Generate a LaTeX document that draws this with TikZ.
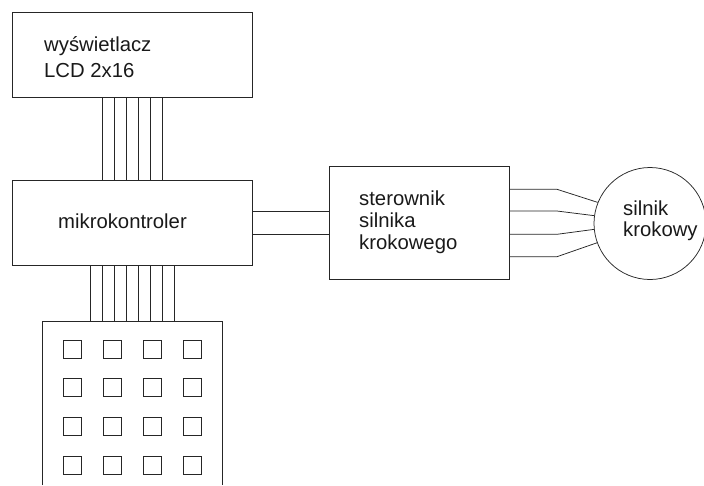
\documentclass[tikz,border=0pt]{standalone}
\usepackage{fontspec}
\setmainfont{Liberation Sans}
\begin{document}
\begin{tikzpicture}[x=1pt,y=-1pt,
  wire/.style={draw=black!85,line width=0.75pt},
  box/.style={draw=black!85,line width=0.75pt,rectangle,inner sep=0pt},
  key/.style={draw=black!85,rectangle,inner sep=0pt,minimum width=18pt,minimum height=18pt,line width=0.9pt},
  motor/.style={draw=black!85,line width=0.75pt,circle,inner sep=0pt,minimum size=112pt},
  lbl/.style={inner sep=0pt,anchor=base west,font=\fontsize{20.3}{24}\selectfont,text=black!90}]
\useasboundingbox (0,0) rectangle (704,485);
% blocks
\node[box,minimum width=240pt,minimum height=85pt] (lcd) at (132,54.5) {};
\node[box,minimum width=240pt,minimum height=85pt] (mcu) at (132,222.75) {};
\node[box,minimum width=180pt,minimum height=113pt] (ster) at (419.3,222.5) {};
\node[motor] (mot) at (650,223.5) {};
% keypad (open at the bottom)
\coordinate (kpbl) at (42,485);
\coordinate (kptl) at (42,321);
\coordinate (kptr) at (222,321);
\coordinate (kpbr) at (222,485);
\draw[wire] (kpbl) -- (kptl) -- (kptr) -- (kpbr);
\foreach \c [count=\i] in {72,112,152,192}{
  \foreach \r [count=\j] in {349,387.7,426.3,465}{
    \node[key] (k\i\j) at (\c,\r) {};
  }
}
% texts
\node[lbl] (t1) at (44,51.5) {wyświetlacz};
\node[lbl] (t2) at (44,77) {LCD 2x16};
\node[lbl] (t3) at (58,228) {mikrokontroler};
\node[lbl] (t4) at (359,205.5) {sterownik};
\node[lbl] (t5) at (359,227.5) {silnika};
\node[lbl] (t6) at (359,249.5) {krokowego};
\node[lbl] (t7) at (623,215) {silnik};
\node[lbl] (t8) at (623,236) {krokowy};
% LCD bus
\foreach \x in {102,114,126,138,150,162}{
  \draw[wire] (lcd.south -| \x,0) -- (mcu.north -| \x,0);
}
% keypad bus
\foreach \x in {90,102,114,126,138,150,162,174}{
  \draw[wire] (mcu.south -| \x,0) -- (kptl -| \x,0);
}
% mcu to driver
\foreach \y in {211.7,234.3}{
  \draw[wire] (mcu.east |- 0,\y) -- (ster.west |- 0,\y);
}
% driver to motor
\foreach \y/\a [count=\n] in {189.3/158.2,211/172,234.3/186.5,256.7/200.5}{
  \coordinate (b\n) at (557,\y);
  \draw[wire] (ster.east |- b\n) -- (b\n) -- (mot.\a);
}
\end{tikzpicture}
\end{document}
